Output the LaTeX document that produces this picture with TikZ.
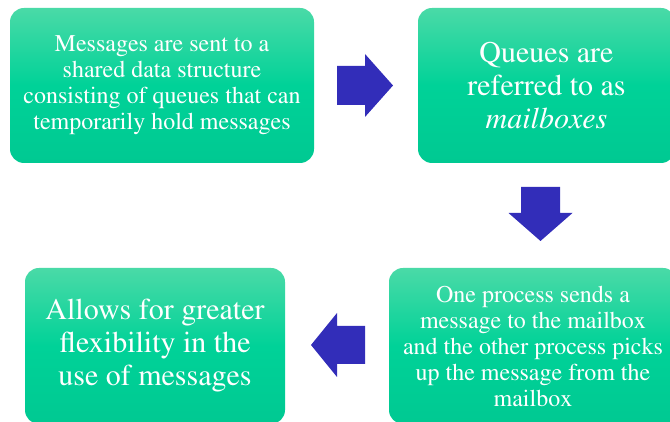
\documentclass[tikz,border=0pt]{standalone}
\usepackage[T1]{fontenc}
\usepackage{times}
\definecolor{gtop}{RGB}{74,218,167}
\definecolor{gmid}{RGB}{0,210,152}
\definecolor{gbot}{RGB}{0,201,146}
\definecolor{arrowblue}{RGB}{50,45,185}
\tikzset{
  box/.style={rectangle, rounded corners=14pt, inner sep=0pt,
    top color=gtop, bottom color=gbot, middle color=gmid,
    text=white, align=center},
  small/.style={font=\fontsize{24}{26}\selectfont},
  big/.style={font=\fontsize{30}{33}\selectfont},
  blockarrow/.style={fill=arrowblue, draw=none}
}
\begin{document}
\begin{tikzpicture}[x=1pt,y=1pt]
\useasboundingbox (0,0) rectangle (670,422);
\clip (0,0) rectangle (670,422);
\node[box, small, minimum width=304pt, minimum height=155pt] (b1) at (162,336.5)
  {Messages are sent to a\\shared data structure\\consisting of queues that can\\temporarily hold messages};
\node[box, big, minimum width=257pt, minimum height=155pt] (b2) at (546.5,336.5)
  {Queues are\\referred to as\\\textit{mailboxes}};
\node[box, small, minimum width=288pt, minimum height=156pt] (b3) at (533,76)
  {One process sends a\\message to the mailbox\\and the other process picks\\up the message from the\\mailbox};
\node[box, big, minimum width=260pt, minimum height=156pt] (b4) at (155,76)
  {Allows for greater\\flexibility in the\\use of messages};
% block arrows
\fill[blockarrow] (337,317) -- (365,317) -- (365,305) -- (393,336.5) -- (365,368) -- (365,356) -- (337,356) -- cycle;
\fill[blockarrow] (521,235) -- (560,235) -- (560,209) -- (572.5,209) -- (540.5,181) -- (508.5,209) -- (521,209) -- cycle;
\fill[blockarrow] (365,58) -- (365,96) -- (337,96) -- (337,109) -- (311,77) -- (337,45) -- (337,58) -- cycle;
\end{tikzpicture}
\end{document}
